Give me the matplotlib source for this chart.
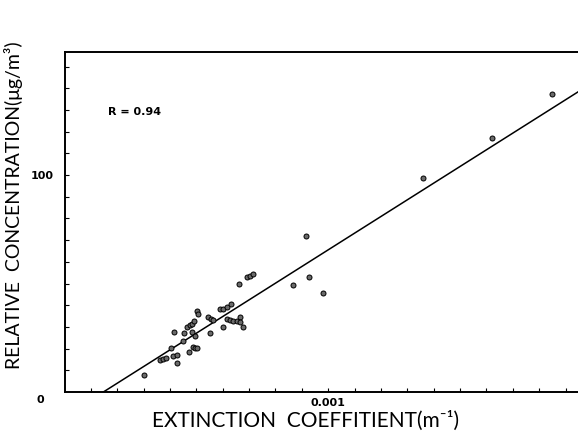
import matplotlib
matplotlib.use("Agg")
import matplotlib.pyplot as plt
import numpy as np

# measured points: extinction coefficient (1/m) vs relative concentration (ug/m3)
ext_coef = [0.000301, 0.000362, 0.000375, 0.000385, 0.000403, 0.000412, 0.000425, 0.000425,
            0.000416, 0.000448, 0.000454, 0.000466, 0.000476, 0.000482, 0.000492, 0.000473,
            0.000486, 0.000496, 0.000501, 0.000483, 0.000494, 0.000502, 0.000507, 0.000545,
            0.000554, 0.000564, 0.000552, 0.000589, 0.000602, 0.000617, 0.000631, 0.000600,
            0.000615, 0.000627, 0.000640, 0.000653, 0.000665, 0.000665, 0.000678, 0.000663,
            0.000693, 0.000703, 0.000716, 0.000867, 0.000915, 0.000926, 0.000979, 0.00136,
            0.001622, 0.001849]
concentration = [7.7, 14.7, 15.1, 15.5, 20.1, 16.6, 16.9, 13.2,
                 27.5, 23.6, 27.3, 29.8, 30.9, 31.3, 32.7, 18.3,
                 20.6, 20.3, 20.1, 27.8, 25.8, 37.3, 35.9, 34.4,
                 33.5, 33.2, 27.3, 38.1, 38.1, 39.0, 40.6, 30.1,
                 33.5, 33.2, 32.9, 32.9, 34.7, 32.4, 29.8, 49.8,
                 53.1, 53.6, 54.2, 49.2, 71.8, 53.1, 45.8, 98.5,
                 117.2, 137.3]

# regression line
fit_slope = 76850.0
fit_intercept = -11.3
r_label = "R = 0.94"

fig = plt.figure(figsize=(5.78, 4.41), dpi=100)
ax = fig.add_axes([0.1116, 0.111, 0.8884, 0.771])

xmax = 0.001947
ax.set_xlim(0, xmax)
ax.set_ylim(0, 156.7)

# fitted line, starting where it crosses zero
x0 = -fit_intercept / fit_slope
xl = np.array([x0, xmax])
ax.plot(xl, fit_slope * xl + fit_intercept, color="black", lw=1.1)

ax.plot(ext_coef, concentration, "o", ms=3.6, mfc="#6a6a6a", mec="black", mew=0.7)

# axis frame, right side cut off like the scan
ax.spines["right"].set_visible(False)
for s in ["top", "left", "bottom"]:
    ax.spines[s].set_linewidth(1.4)

ax.set_xticks([0.001])
ax.set_xticklabels(["0.001"])
ax.set_xticks(np.arange(0.0001, xmax, 0.0001), minor=True)
ax.set_yticks([100])
ax.set_yticklabels(["100"])
ax.set_yticks(np.arange(10, 156, 10), minor=True)
ax.tick_params(axis="both", which="both", direction="in", length=3, width=0.8)
ax.tick_params(axis="x", which="major", pad=4, labelsize=8)
ax.tick_params(axis="y", which="major", pad=8, labelsize=8)
for lab in ax.get_xticklabels() + ax.get_yticklabels():
    lab.set_fontweight("bold")

ax.text(-0.04, -0.01, "0", transform=ax.transAxes, fontsize=8, fontweight="bold",
        ha="right", va="top")

ax.text(0.085, 0.815, r_label, transform=ax.transAxes, fontsize=8, fontweight="bold")

lab_font = ["Lato", "DejaVu Sans"]
ax.set_xlabel("EXTINCTION  COEFFITIENT(m\u207b\u00b9)", fontsize=15, family=lab_font,
              color="black")
ax.xaxis.set_label_coords(0.47, -0.055, transform=ax.transAxes)
ax.xaxis.label.set_va("top")
ax.set_ylabel("RELATIVE  CONCENTRATION(\u03bcg/m\u00b3)", fontsize=14, family=lab_font,
              color="black")
ax.yaxis.set_label_coords(-0.08, 0.55, transform=ax.transAxes)

fig.savefig("out.png", dpi=100)
